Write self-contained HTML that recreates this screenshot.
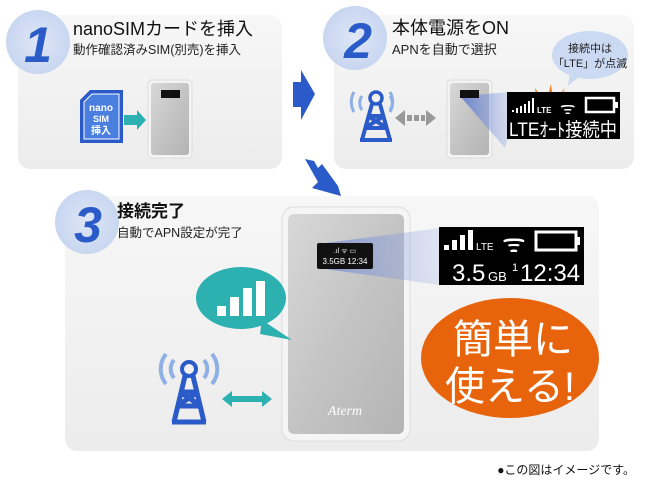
<!DOCTYPE html>
<html><head><meta charset="utf-8"><style>
body{margin:0;background:#fff;}
svg{display:block;font-family:"Liberation Sans","Noto Sans CJK JP",sans-serif;}
</style></head><body>
<svg width="650" height="490" viewBox="0 0 650 490" xmlns="http://www.w3.org/2000/svg">
<defs>
<linearGradient id="pg" x1="0" y1="0" x2="0" y2="1"><stop offset="0" stop-color="#f7f7f7"/><stop offset="1" stop-color="#ececec"/></linearGradient>
<linearGradient id="dev" x1="0" y1="0" x2="1" y2="1"><stop offset="0" stop-color="#d8d8d8"/><stop offset=".5" stop-color="#c4c4c4"/><stop offset="1" stop-color="#b4b4b4"/></linearGradient>
<linearGradient id="beam" x1="0" y1="0" x2="1" y2="0"><stop offset="0" stop-color="#3a5fd0" stop-opacity=".9"/><stop offset="1" stop-color="#a8b8e8" stop-opacity=".5"/></linearGradient>
<radialGradient id="circ" cx=".5" cy=".5" r=".5"><stop offset="0" stop-color="#dfe7f7"/><stop offset="1" stop-color="#c8d6f0"/></radialGradient>
</defs>
<rect width="650" height="490" fill="#fff"/>
<rect x="18" y="15" width="264" height="154" rx="12" fill="url(#pg)"/>
<rect x="334" y="15" width="300" height="154" rx="12" fill="url(#pg)"/>
<rect x="65" y="196" width="534" height="255" rx="12" fill="url(#pg)"/>
<circle cx="38" cy="42" r="32" fill="url(#circ)"/>
<text x="38" y="62" font-size="50" font-weight="bold" font-style="italic" fill="#2a5bc8" text-anchor="middle">1</text>
<circle cx="355" cy="38" r="32" fill="url(#circ)"/>
<text x="358" y="58" font-size="50" font-weight="bold" font-style="italic" fill="#2a5bc8" text-anchor="middle">2</text>
<circle cx="87" cy="222" r="32" fill="url(#circ)"/>
<text x="88" y="242" font-size="50" font-weight="bold" font-style="italic" fill="#2a5bc8" text-anchor="middle">3</text>
<text x="73" y="35" font-size="18" fill="#111">nanoSIMカードを挿入</text>
<text x="73" y="54" font-size="12.5" fill="#222">動作確認済みSIM(別売)を挿入</text>
<text x="392" y="34" font-size="18" fill="#111">本体電源をON</text>
<text x="392" y="54" font-size="13" fill="#222">APNを自動で選択</text>
<text x="117" y="217" font-size="17" font-weight="bold" fill="#111">接続完了</text>
<text x="117" y="237" font-size="12.5" fill="#222">自動でAPN設定が完了</text>
<path d="M80 100 L90 90 L123 90 L123 143 L80 143 Z" fill="#2a5bc8"/>
<path d="M84 102 L92 94 L119 94 L119 139 L84 139 Z" fill="#4a7fe0" stroke="#fff" stroke-width="1"/>
<text x="101" y="111" font-size="10" font-weight="bold" fill="#fff" text-anchor="middle">nano</text>
<text x="101" y="122" font-size="9" font-weight="bold" fill="#fff" text-anchor="middle">SIM</text>
<text x="101" y="134" font-size="10" font-weight="bold" fill="#fff" text-anchor="middle">挿入</text>
<path d="M124 115 L137 115 L137 110 L146 120 L137 130 L137 125 L124 125 Z" fill="#2cb0b0"/>
<rect x="148" y="80" width="44" height="78" rx="4" fill="#f3f3f3" stroke="#ddd"/>
<rect x="151" y="83" width="38" height="72" rx="3" fill="url(#dev)"/>
<rect x="161" y="90" width="19" height="8" fill="#111"/>
<polygon points="293,82 301,82 301,70 315,94 301,120 301,107 293,107" fill="#2a5bc8"/>
<polygon points="305,159 314,161 318,168 322,164 338,186 341,196 312,188 318,182" fill="#2a5bc8"/>
<g transform="translate(350,82)">
<path d="M8 22 A20 20 0 0 1 8 2 M44 22 A20 20 0 0 0 44 2" stroke="#8fb0e6" stroke-width="3" fill="none" transform="translate(-4,8)"/>
<path d="M12 20 A12 12 0 0 1 12 6 M40 20 A12 12 0 0 0 40 6" stroke="#8fb0e6" stroke-width="3" fill="none" transform="translate(0,8)"/>
<circle cx="26" cy="16" r="6" fill="none" stroke="#2a5bc8" stroke-width="3.5"/>
<path d="M22 22 L12 58 M30 22 L40 58 M18 34 L34 34 M15 46 L37 46 M18 34 L37 46 M34 34 L15 46 M10 58 L42 58" stroke="#2a5bc8" stroke-width="4" fill="none"/>
</g>
<path d="M395 118 L405 110 L405 126 Z M436 118 L426 110 L426 126 Z" fill="#999"/>
<rect x="407" y="115" width="5" height="6" fill="#999"/><rect x="414" y="115" width="5" height="6" fill="#999"/><rect x="421" y="115" width="4" height="6" fill="#999"/>
<rect x="447" y="80" width="45" height="78" rx="4" fill="#f3f3f3" stroke="#ddd"/>
<rect x="450" y="83" width="39" height="72" rx="3" fill="url(#dev)"/>
<polygon points="460,96 510,92 510,130 505,148" fill="url(#beam)" opacity=".75"/>
<rect x="460" y="90" width="19" height="8" fill="#111"/>
<ellipse cx="590" cy="55" rx="38" ry="24" fill="#cbd9f2"/>
<polygon points="570,72 580,76 568,86" fill="#cbd9f2"/>
<text x="590" y="52" font-size="11" fill="#222" text-anchor="middle">接続中は</text>
<text x="590" y="67" font-size="11" fill="#222" text-anchor="middle">「LTE」が点滅</text>
<polygon points="535,88 543,100 537,101" fill="#f07a10"/>
<polygon points="551,84 553,100 547,100" fill="#f07a10"/>
<polygon points="565,88 559,101 555,100" fill="#f07a10"/>
<rect x="507" y="92" width="113" height="47" fill="#000"/>
<g fill="#fff"><rect x="512" y="110" width="2" height="2"/><rect x="516" y="108" width="2" height="5"/><rect x="520" y="106" width="2" height="7"/><rect x="524" y="104" width="2" height="9"/><rect x="528" y="101" width="2" height="12"/><rect x="532" y="98" width="2" height="15"/></g>
<text x="537" y="113" font-size="8" font-weight="bold" fill="#fff">LTE</text>
<text x="560" y="114" font-size="17" fill="#fff">ᯤ</text>
<rect x="586" y="98" width="28" height="14" fill="none" stroke="#fff" stroke-width="2.5"/><rect x="615" y="102" width="3" height="6" fill="#fff"/>
<text x="509" y="136" font-size="19" fill="#fff" textLength="108" lengthAdjust="spacingAndGlyphs">LTEｵｰﾄ接続中</text>
<rect x="282" y="207" width="128" height="234" rx="12" fill="#f5f5f5" stroke="#ddd"/>
<rect x="288" y="214" width="116" height="220" rx="6" fill="url(#dev)"/>
<polygon points="318,244 440,228 440,285 318,268" fill="url(#beam)" opacity=".55"/>
<rect x="317" y="243" width="56" height="26" rx="2" fill="#111"/>
<text x="345" y="264" font-size="8" fill="#fff" text-anchor="middle">3.5GB 12:34</text>
<text x="345" y="253" font-size="7" fill="#fff" text-anchor="middle">.ıl ᯤ ▭</text>
<text x="345" y="415" font-size="14" font-style="italic" fill="#fff" text-anchor="middle" font-family="Liberation Serif,serif">Aterm</text>
<rect x="439" y="227" width="145" height="58" fill="#000"/>
<g fill="#fff"><rect x="444" y="245" width="5" height="5"/><rect x="452" y="240" width="5" height="10"/><rect x="460" y="235" width="5" height="15"/><rect x="468" y="230" width="5" height="20"/></g>
<text x="476" y="250" font-size="10" fill="#fff">LTE</text>
<text x="502" y="252" font-size="26" fill="#fff">ᯤ</text>
<rect x="536" y="232" width="40" height="18" fill="none" stroke="#fff" stroke-width="3"/><rect x="577" y="237" width="3" height="8" fill="#fff"/>
<text x="452" y="281" font-size="24" fill="#fff">3.5</text><text x="488" y="281" font-size="13" fill="#fff">GB</text>
<text x="512" y="271" font-size="11" fill="#fff">1</text>
<text x="520" y="281" font-size="24" fill="#fff">12:34</text>
<ellipse cx="241" cy="298" rx="45" ry="31" fill="#2cb0b0"/>
<polygon points="262,320 292,340 260,334" fill="#2cb0b0"/>
<g fill="#fff"><rect x="217" y="306" width="9" height="10"/><rect x="230" y="297" width="9" height="19"/><rect x="243" y="288" width="9" height="28"/><rect x="256" y="281" width="9" height="35"/></g>
<ellipse cx="510" cy="358" rx="89" ry="60" fill="#e8640c"/>
<text x="513" y="353" font-size="40" fill="#fff" text-anchor="middle">簡単に</text>
<text x="510" y="400" font-size="40" fill="#fff" text-anchor="middle">使える!</text>
<g transform="translate(160,350)">
<path d="M6 34 A24 24 0 0 1 6 4 M52 34 A24 24 0 0 0 52 4" stroke="#8fb0e6" stroke-width="4" fill="none"/>
<path d="M14 28 A14 14 0 0 1 14 10 M44 28 A14 14 0 0 0 44 10" stroke="#8fb0e6" stroke-width="4" fill="none"/>
<circle cx="29" cy="19" r="7" fill="none" stroke="#2a5bc8" stroke-width="4"/>
<path d="M25 26 L14 72 M33 26 L44 72 M20 42 L38 42 M17 56 L41 56 M20 42 L41 56 M38 42 L17 56 M12 72 L46 72" stroke="#2a5bc8" stroke-width="5" fill="none"/>
</g>
<path d="M222 399 L232 391 L232 396 L262 396 L262 391 L272 399 L262 407 L262 402 L232 402 L232 407 Z" fill="#2cb0b0"/>
<text x="635" y="474" font-size="12" fill="#111" text-anchor="end">●この図はイメージです。</text>
</svg>
</body></html>
